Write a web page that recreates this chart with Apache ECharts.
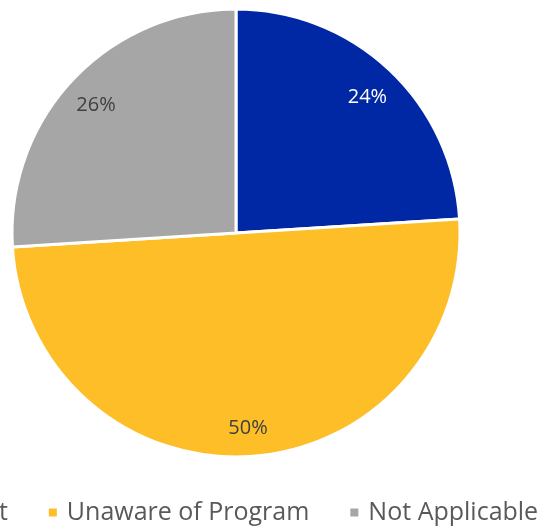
<!DOCTYPE html>
<html>
<head>
<meta charset="utf-8">
<script src="https://cdn.jsdelivr.net/npm/echarts@6/dist/echarts.min.js"></script>
<style>
  html, body { margin: 0; padding: 0; background: #fff; }
  #chart { width: 545px; height: 527px; }
</style>
</head>
<body>
<div id="chart"></div>
<script>
// Survey responses, drawn clockwise from twelve o'clock
const categories = ['Lack of Interest', 'Unaware of Program', 'Not Applicable'];
const shares = [24, 50, 26];
const sliceColors = ['#0028A4', '#FEBE27', '#A6A6A6'];
const labelColors = ['#FFFFFF', '#404040', '#404040'];

const labelFont = { fontFamily: 'Open Sans', fontSize: 20, offset: [0, 4] };

const pieData = categories.map((name, i) => ({
  name,
  value: shares[i],
  itemStyle: { color: sliceColors[i] }
}));

// A transparent ring carries the percentage labels, so they sit near the rim
const labelData = categories.map((name, i) => ({
  name,
  value: shares[i],
  label: Object.assign({ show: true, position: 'inside', formatter: '{c}%', color: labelColors[i] }, labelFont)
}));

const chart = echarts.init(document.getElementById('chart'));
chart.setOption({
  animation: false,
  color: sliceColors,
  legend: {
    data: categories,
    left: -196,
    top: 495,
    width: 900,
    icon: 'rect',
    itemWidth: 10,
    itemHeight: 10,
    itemGap: 39,
    textStyle: {
      fontFamily: 'Open Sans',
      fontSize: 25,
      color: '#595959',
      padding: [0, 0, 0, 4]
    }
  },
  series: [
    {
      type: 'pie',
      center: [236, 233],
      radius: [0, 224],
      startAngle: 90,
      clockwise: true,
      data: pieData,
      label: { show: false },
      labelLine: { show: false },
      itemStyle: { borderColor: '#FFFFFF', borderWidth: 3 },
      emphasis: { disabled: true }
    },
    {
      type: 'pie',
      center: [236, 233],
      radius: [154, 224],
      startAngle: 90,
      clockwise: true,
      silent: true,
      data: labelData,
      itemStyle: { color: 'rgba(0,0,0,0)', borderWidth: 0 },
      label: Object.assign({ show: true, position: 'inside', formatter: '{c}%' }, labelFont),
      labelLine: { show: false },
      emphasis: { disabled: true }
    }
  ]
});
</script>
</body>
</html>
